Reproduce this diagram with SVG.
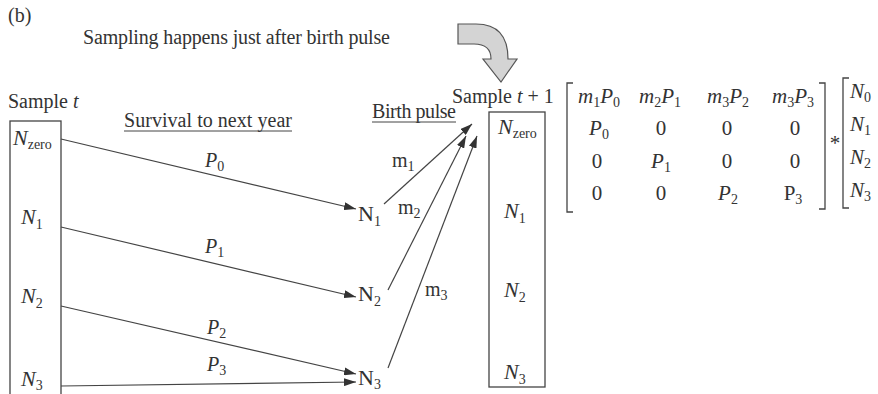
<svg xmlns="http://www.w3.org/2000/svg" width="878" height="394" viewBox="0 0 878 394">
<defs>
<style>
text{font-family:"Liberation Serif","DejaVu Serif",serif;fill:#333}
.t{font-size:20px}
.n{font-size:22px}
.it{font-style:italic}
.sub{font-size:14px;font-style:normal}
.lbl{font-size:20px}
.box{fill:none;stroke:#444;stroke-width:1.3}
.con{stroke:#444;stroke-width:1.2;fill:none;marker-end:url(#ah)}
.ul{stroke:#444;stroke-width:1}
.mx{font-size:21px;text-anchor:middle}
.br{fill:none;stroke:#444;stroke-width:1.3}
</style>
<marker id="ah" viewBox="0 0 12 8" refX="12" refY="4" markerWidth="12" markerHeight="8" markerUnits="userSpaceOnUse" orient="auto">
<path d="M0,0 L12,4 L0,8 z" fill="#333"/>
</marker>
</defs>
<rect width="878" height="394" fill="#fff"/>

<g id="title">
<text x="8" y="22" class="t">(b)</text>
<text x="83" y="44" class="t" textLength="307">Sampling happens just after birth pulse</text>
</g>

<g id="curved-arrow">
<path d="M458,24 L476,24 Q508,24 508,59 L517,59 L501,82 L483,59 L491,59 Q491,44 474,44 L458,44 Z" fill="#d4d4d4" stroke="#555" stroke-width="1.2"/>
</g>

<g id="sample-t">
<text x="8" y="108" class="t">Sample <tspan class="it">t</tspan></text>
<rect x="10" y="121" width="51" height="290" class="box"/>
<text x="13" y="145" class="n it">N<tspan class="sub" dy="4">zero</tspan></text>
<text x="21" y="224" class="n it">N<tspan class="sub" dy="5">1</tspan></text>
<text x="21" y="303" class="n it">N<tspan class="sub" dy="5">2</tspan></text>
<text x="21" y="386" class="n it">N<tspan class="sub" dy="4">3</tspan></text>
</g>

<g id="headings">
<text x="124" y="127" class="t" textLength="168">Survival to next year</text>
<line x1="124" y1="131" x2="292" y2="131" class="ul"/>
<text x="372" y="118" class="t" textLength="84">Birth pulse</text>
<line x1="372" y1="122" x2="456" y2="122" class="ul"/>
</g>

<g id="mid-N1"><text x="358" y="221" class="n">N<tspan class="sub" dy="5">1</tspan></text></g>
<g id="mid-N2"><text x="358" y="301" class="n">N<tspan class="sub" dy="5">2</tspan></text></g>
<g id="mid-N3"><text x="358" y="385" class="n">N<tspan class="sub" dy="4">3</tspan></text></g>

<g id="connectors">
<line x1="61" y1="139" x2="356" y2="209" class="con"/>
<line x1="61" y1="227" x2="356" y2="297" class="con"/>
<line x1="61" y1="306" x2="356" y2="374" class="con"/>
<line x1="61" y1="386" x2="356" y2="382" class="con"/>
<line x1="384" y1="204" x2="472" y2="124" class="con"/>
<line x1="388" y1="290" x2="466" y2="136" class="con"/>
<line x1="388" y1="368" x2="477" y2="136" class="con"/>
</g>

<g id="edge-labels">
<text x="205" y="167" class="lbl it">P<tspan class="sub" dy="4">0</tspan></text>
<text x="205" y="253" class="lbl it">P<tspan class="sub" dy="4">1</tspan></text>
<text x="207" y="334" class="lbl it">P<tspan class="sub" dy="4">2</tspan></text>
<text x="207" y="371" class="lbl it">P<tspan class="sub" dy="4">3</tspan></text>
<text x="392" y="167" class="lbl">m<tspan class="sub" dy="4">1</tspan></text>
<text x="398" y="214" class="lbl">m<tspan class="sub" dy="4">2</tspan></text>
<text x="425" y="296" class="lbl">m<tspan class="sub" dy="4">3</tspan></text>
</g>

<g id="sample-t1">
<text x="452" y="103" class="t">Sample <tspan class="it">t</tspan> + 1</text>
<rect x="489" y="112" width="56" height="275" class="box"/>
<text x="498" y="134" class="n it">N<tspan class="sub" dy="4">zero</tspan></text>
<text x="504" y="218" class="n it">N<tspan class="sub" dy="5">1</tspan></text>
<text x="504" y="297" class="n it">N<tspan class="sub" dy="5">2</tspan></text>
<text x="504" y="379" class="n it">N<tspan class="sub" dy="5">3</tspan></text>
</g>

<g id="matrix">
<path d="M573,83 L567,83 L567,212 L573,212" class="br"/>
<path d="M819,83 L825,83 L825,209 L819,209" class="br"/>
<text x="599" y="103" class="mx it">m<tspan class="sub" dy="4">1</tspan><tspan dy="-4">P</tspan><tspan class="sub" dy="4">0</tspan></text>
<text x="660" y="103" class="mx it">m<tspan class="sub" dy="4">2</tspan><tspan dy="-4">P</tspan><tspan class="sub" dy="4">1</tspan></text>
<text x="728" y="103" class="mx it">m<tspan class="sub" dy="4">3</tspan><tspan dy="-4">P</tspan><tspan class="sub" dy="4">2</tspan></text>
<text x="793" y="103" class="mx it">m<tspan class="sub" dy="4">3</tspan><tspan dy="-4">P</tspan><tspan class="sub" dy="4">3</tspan></text>
<text x="599" y="135" class="mx it">P<tspan class="sub" dy="4">0</tspan></text>
<text x="661" y="135" class="mx">0</text>
<text x="727" y="135" class="mx">0</text>
<text x="795" y="135" class="mx">0</text>
<text x="597" y="168" class="mx">0</text>
<text x="661" y="168" class="mx it">P<tspan class="sub" dy="4">1</tspan></text>
<text x="727" y="168" class="mx">0</text>
<text x="795" y="168" class="mx">0</text>
<text x="597" y="200" class="mx">0</text>
<text x="661" y="200" class="mx">0</text>
<text x="728" y="200" class="mx it">P<tspan class="sub" dy="4">2</tspan></text>
<text x="793" y="200" class="mx">P<tspan class="sub" dy="4">3</tspan></text>
<text x="835" y="150" class="mx">*</text>
<path d="M849,78 L843,78 L843,208 L849,208" class="br"/>
<text x="850" y="98" class="mx it" style="text-anchor:start">N<tspan class="sub" dy="4">0</tspan></text>
<text x="850" y="131" class="mx it" style="text-anchor:start">N<tspan class="sub" dy="4">1</tspan></text>
<text x="850" y="164" class="mx it" style="text-anchor:start">N<tspan class="sub" dy="4">2</tspan></text>
<text x="850" y="197" class="mx it" style="text-anchor:start">N<tspan class="sub" dy="4">3</tspan></text>
</g>
</svg>
